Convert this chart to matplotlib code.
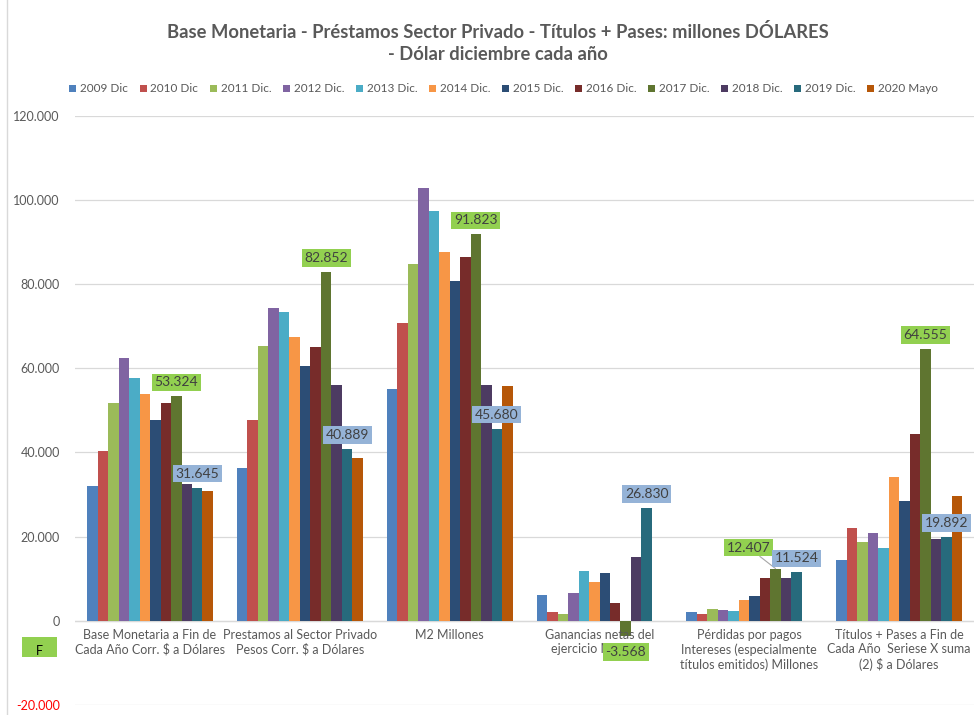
import numpy as np
import matplotlib.pyplot as plt
from matplotlib.patches import Rectangle
from matplotlib.lines import Line2D

plt.rcParams['font.family'] = ['Lato', 'DejaVu Sans']

years = ['2009 Dic', '2010 Dic', '2011 Dic.', '2012 Dic.', '2013 Dic.', '2014 Dic.',
         '2015 Dic.', '2016 Dic.', '2017 Dic.', '2018 Dic.', '2019 Dic.', '2020 Mayo']
colors = ['#4F81BD', '#C0504D', '#9BBB59', '#8064A2', '#4BACC6', '#F79646',
          '#2C4D75', '#772C2A', '#5F7530', '#4D3B62', '#276A7C', '#B65708']

categories = [
    'Base Monetaria a Fin de\nCada Año Corr. $ a Dólares',
    'Prestamos al Sector Privado\nPesos Corr. $ a Dólares',
    'M2 Millones',
    'Ganancias netas del\nejercicio Millones',
    'Pérdidas por pagos\nIntereses (especialmente\ntítulos emitidos) Millones',
    'Títulos + Pases a Fin de\nCada Año  Seriese X suma\n(2) $ a Dólares',
]

# millones de dólares, 2009 .. 2020 (mayo)
base_monetaria = [32000, 40300, 51700, 62400, 57800, 54000, 47800, 51700, 53324, 32600, 31645, 30900]
prestamos = [36400, 47700, 65400, 74400, 73500, 67500, 60500, 65000, 82852, 56100, 40889, 38800]
m2 = [55000, 70800, 84900, 102800, 97500, 87700, 80800, 86500, 91823, 56000, 45680, 55800]
ganancias = [6200, 2200, 1700, 6500, 11900, 9200, 11300, 4200, -3568, 15200, 26830, np.nan]
perdidas = [2100, 1600, 2800, 2500, 2300, 4900, 5900, 10200, 12407, 10200, 11524, np.nan]
titulos_pases = [14400, 22100, 18800, 20800, 17400, 34100, 28400, 44500, 64555, 19400, 19892, 29600]

data = np.array([base_monetaria, prestamos, m2, ganancias, perdidas, titulos_pases])

fig = plt.figure(figsize=(9.76, 7.15), dpi=100)
ax = fig.add_axes([0.077, 0.014, 0.921, 0.824])

gray = '#595959'
n = len(years)
group_w = 0.84
bw = group_w / n
x = np.arange(len(categories))

for i, year in enumerate(years):
    pos = x - group_w / 2 + bw * (i + 0.5)
    ax.bar(pos, data[:, i], width=bw, color=colors[i], label=year, zorder=3)

ax.set_xlim(-0.5, len(categories) - 0.5)
ax.set_ylim(-20000, 120000)
ax.set_yticks(np.arange(-20000, 120001, 20000))
ax.set_yticklabels([f'{v:,.0f}'.replace(',', '.') for v in ax.get_yticks()])
ax.tick_params(axis='y', length=0, pad=11, labelsize=9, labelcolor=gray)
ax.get_yticklabels()[0].set_color('#FF0000')
ax.set_xticks([])
for s in ax.spines.values():
    s.set_visible(False)
ax.grid(axis='y', color='#D9D9D9', linewidth=0.9, zorder=0)
ax.axhline(0, color='#D9D9D9', linewidth=0.9, zorder=2)

# category names just under the zero line
for xi, name in zip(x, categories):
    ax.annotate(name, xy=(xi, 0), xytext=(0, -8), textcoords='offset pixels',
                ha='center', va='top', fontsize=9, color=gray, linespacing=1.25)

# value labels on 2017 and 2019 bars
def add_label(ci, si, fill, dx=0, dy=14, leader=False):
    v = data[ci, si]
    pos = x[ci] - group_w / 2 + bw * (si + 0.5)
    txt = f'{v:,.0f}'.replace(',', '.')
    ax.annotate(txt, xy=(pos, v), xytext=(dx, dy if v >= 0 else -dy),
                textcoords='offset pixels', ha='center', va='center',
                fontsize=10, color='#404040', zorder=5,
                bbox=dict(boxstyle='square,pad=0.2', fc=fill, ec='none'),
                arrowprops=dict(arrowstyle='-', color='#A6A6A6', lw=0.8,
                                shrinkA=0, shrinkB=0) if leader else None)

for ci in range(len(categories)):
    if ci == 4:
        add_label(ci, 8, '#92D050', dx=-27, dy=21, leader=True)
    elif ci == 3:
        add_label(ci, 8, '#92D050', dy=16)
    else:
        add_label(ci, 8, '#92D050')
    add_label(ci, 10, '#95B3D7')

fig.legend(loc='center', bbox_to_anchor=(0.516, 1 - 89 / 715), ncol=n,
           frameon=False, fontsize=8.5, handlelength=0.6, handleheight=0.6,
           handletextpad=0.3, columnspacing=1.0, labelcolor=gray)

fig.text(0.51, 1 - 43 / 715,
         'Base Monetaria - Préstamos Sector Privado - Títulos + Pases: millones DÓLARES\n'
         '- Dólar diciembre cada año',
         ha='center', va='center', fontsize=13.2, fontweight='bold', color=gray,
         linespacing=1.35)

# left border of the chart area and the small "F" box
fig.add_artist(Line2D([7 / 976, 7 / 976], [0, 1], color='#D9D9D9', lw=1))
fig.add_artist(Rectangle((22 / 976, 1 - 657 / 715), 35 / 976, 20 / 715,
                         facecolor='#92D050', edgecolor='none'))
fig.text(39.5 / 976, 1 - 651 / 715, 'F', ha='center', va='center', fontsize=9, color='black')

fig.savefig('out.png', dpi=100, facecolor='white')
